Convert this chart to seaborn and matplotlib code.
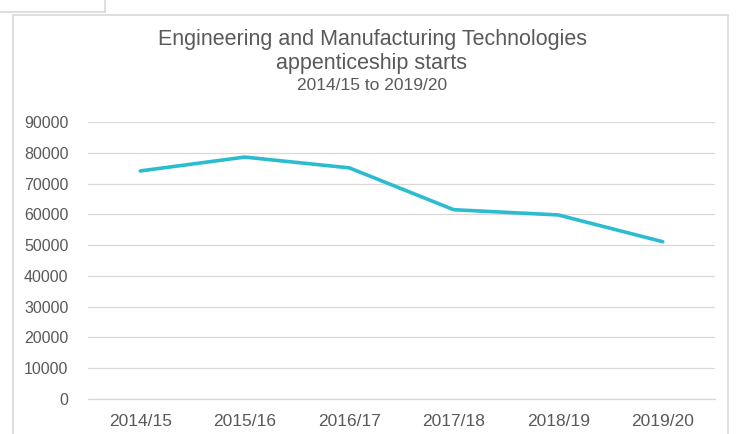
import matplotlib
matplotlib.use("Agg")
import matplotlib.pyplot as plt
import seaborn as sns
import pandas as pd
from matplotlib.lines import Line2D

years = ["2014/15", "2015/16", "2016/17", "2017/18", "2018/19", "2019/20"]
starts = [74100, 78600, 75100, 61500, 59800, 51100]
y_ticks = list(range(0, 90001, 10000))

df = pd.DataFrame({"year": years, "starts": starts})

sns.set_style("white")
plt.rcParams["font.family"] = ["Liberation Sans", "DejaVu Sans"]

grey_text = "#595959"
grid_col = "#d9d9d9"

fig = plt.figure(figsize=(7.38, 4.34), dpi=100)
ax = fig.add_axes([88 / 738, 35 / 434, 627 / 738, 277 / 434])

sns.lineplot(data=df, x="year", y="starts", sort=False, ax=ax,
             color="#2bbcd0", linewidth=2.6, solid_capstyle="round")

ax.set_xlim(-0.5, len(years) - 0.5)
ax.set_ylim(0, 90000)
ax.set_yticks(y_ticks)
ax.set_yticklabels([str(v) for v in y_ticks])
ax.yaxis.grid(True, color=grid_col, linewidth=0.9)
ax.axhline(0, color=grid_col, linewidth=0.9, clip_on=False, zorder=0)
ax.set_axisbelow(True)
for s in ax.spines.values():
    s.set_visible(False)
ax.tick_params(axis="y", length=0, labelsize=11.5, colors=grey_text, pad=14)
ax.tick_params(axis="x", length=0, labelsize=12.5, colors=grey_text, pad=11)
ax.set_xlabel("")
ax.set_ylabel("")

# chart frame and tab
W, H = 738, 434
frame = [((13, 15), (13, 434)), ((13, 15), (728, 15)), ((728, 15), (728, 434)),
         ((0, 12), (105, 12)), ((105, 0), (105, 12))]
for (x0, y0), (x1, y1) in frame:
    fig.add_artist(Line2D([x0 / W, x1 / W], [1 - y0 / H, 1 - y1 / H],
                          color=grid_col, linewidth=1.2, transform=fig.transFigure))

fig.text(372 / W, 1 - 40 / H, "Engineering and Manufacturing Technologies",
         ha="center", va="center", fontsize=15.5, color=grey_text)
fig.text(372 / W, 1 - 63 / H, "appenticeship starts",
         ha="center", va="center", fontsize=15.5, color=grey_text)
fig.text(372 / W, 1 - 86 / H, "2014/15 to 2019/20",
         ha="center", va="center", fontsize=12.5, color=grey_text)

fig.savefig("out.png", dpi=100)
plt.close(fig)
